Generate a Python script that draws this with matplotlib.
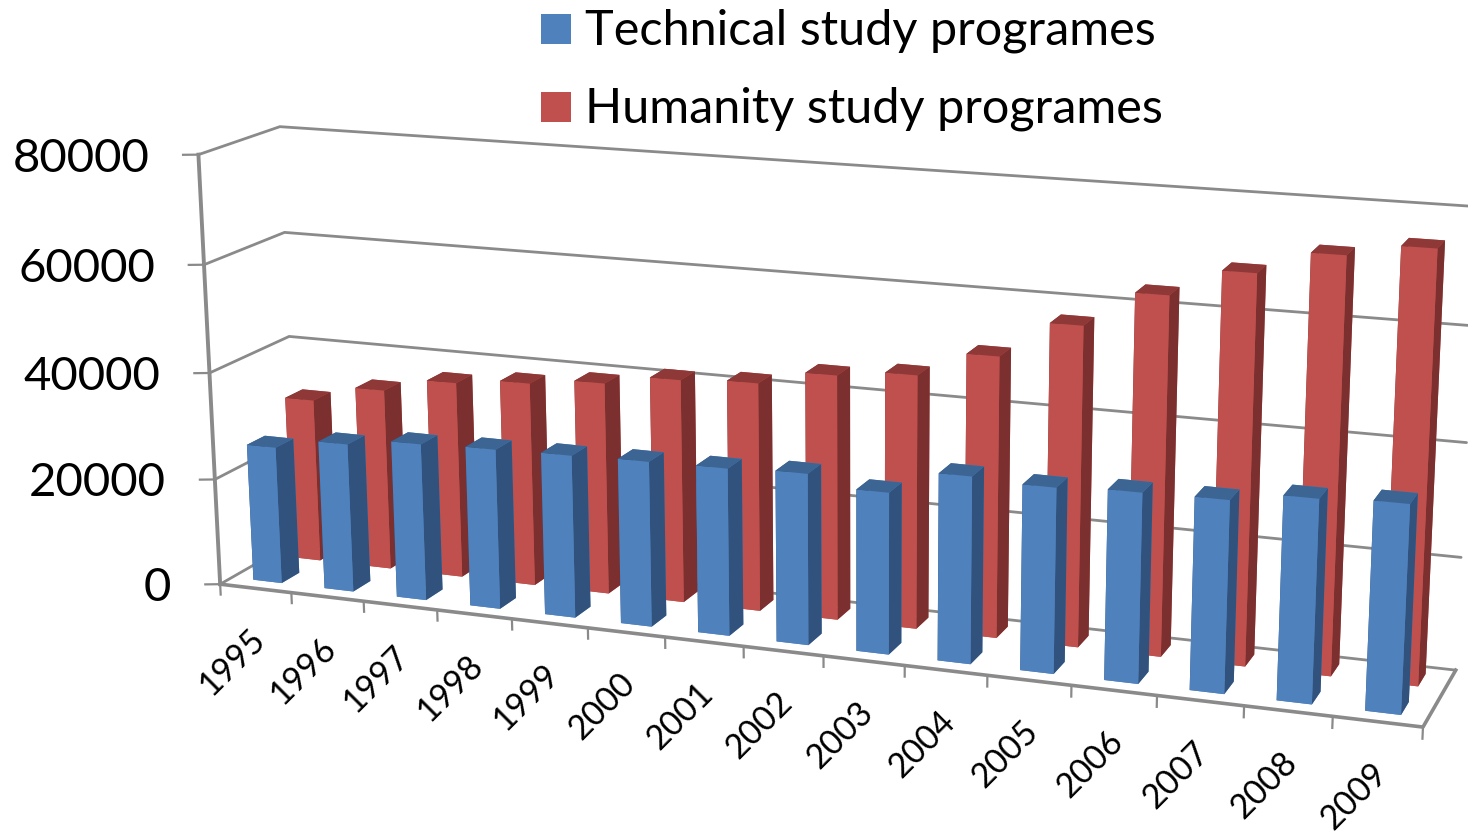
import numpy as np
import matplotlib
matplotlib.use('Agg')
import matplotlib.pyplot as plt
from matplotlib.patches import Rectangle
from mpl_toolkits.mplot3d import proj3d

years = [1995, 1996, 1997, 1998, 1999, 2000, 2001, 2002, 2003, 2004, 2005, 2006, 2007, 2008, 2009]
technical = [25800, 27800, 29200, 29600, 29900, 30200, 30400, 30900, 29000, 33300, 32800, 33400, 33600, 35300, 35900]
humanity = [31000, 34200, 36900, 38100, 39400, 41300, 42000, 44700, 46000, 50600, 57200, 63600, 68500, 72600, 74800]
z_ticks = [0, 20000, 40000, 60000, 80000]

BLUE = ['#4f81bd', '#3c6594', '#30527c']
RED = ['#c0504d', '#8e3937', '#7b2f2e']
GRID = '#8a8a8a'

plt.rcParams['font.family'] = ['Lato', 'DejaVu Sans']

W, H = 1468, 833
S = 1500.0
cx, cy = 792.1397, 426.6467

fig = plt.figure(figsize=(W / 100, H / 100), dpi=100)
ax = fig.add_axes([(cx - S / 2) / W, (H - cy - S / 2) / H, S / W, S / H], projection='3d')
ax.computed_zorder = False
ax.set_axis_off()


def bars(values, y0, cols, zo):
    # faces in bar3d order: bottom, top, front, back, left, right
    n = len(values)
    face = [cols[0], cols[1], cols[0], cols[0], cols[2], cols[2]] * n
    art = ax.bar3d(np.arange(n) + 0.3, [y0] * n, [0] * n, 0.4, 0.45, values,
                   color=face, shade=False, edgecolor='none', zsort='max')
    art.set_zorder(zo)


# walls and floor
n = len(years)
line = dict(color=GRID, lw=2, zorder=1, solid_capstyle='round')
for z in z_ticks:
    ax.plot([0, 0, n], [0, 2, 2], [z, z, z], **line)
    ax.plot([-0.17, 0], [-0.07, 0], [z, z], color=GRID, lw=1.6, zorder=1)
ax.plot([0, 0], [0, 0], [0, 80000], color=GRID, lw=2.8, zorder=1)
ax.plot([0, n, n], [0, 0, 2], [0, 0, 0], color=GRID, lw=2.6, zorder=1)
for i in range(n + 1):
    ax.plot([i, i], [0, 0], [0, -2000], color=GRID, lw=1.6, zorder=1)

bars(humanity, 1.3, RED, 2)
bars(technical, 0.3, BLUE, 3)

ax.set_xlim(0, n)
ax.set_ylim(0, 2)
ax.set_zlim(0, 80000)
ax.view_init(14.9208, -69.4687, 0.2187)
ax.set_proj_type('persp', focal_length=float(np.exp(-0.8618)))
ax.set_box_aspect((np.exp(2.0164), 1, np.exp(0.9988)), zoom=float(np.exp(-0.1221)))
ax.apply_aspect()
M = ax.get_proj()


def label(x, y, z, text, dx, dy, **kw):
    px, py, _ = proj3d.proj_transform(x, y, z, M)
    ax.annotate(text, (px, py), xytext=(dx, dy), textcoords='offset pixels',
                annotation_clip=False, color='black', va='center', **kw)


for z in z_ticks:
    label(0, 0, z, str(z), -49, -4, ha='right', fontsize=34)
for i, yr in enumerate(years):
    label(i + 0.5, 0, 0, str(yr), -24, -74, ha='center', fontsize=24.5, rotation=45,
          rotation_mode='anchor')

# legend
for top, col, txt in [(14, BLUE[0], 'Technical study programes'), (92, RED[0], 'Humanity study programes')]:
    fig.add_artist(Rectangle((541 / W, 1 - (top + 30) / H), 30 / W, 30 / H,
                             transform=fig.transFigure, facecolor=col, edgecolor='none'))
    fig.text(585 / W, 1 - (top + 16.5) / H, txt, fontsize=35, va='center', ha='left', color='black')

fig.savefig('out.png', dpi=100)
